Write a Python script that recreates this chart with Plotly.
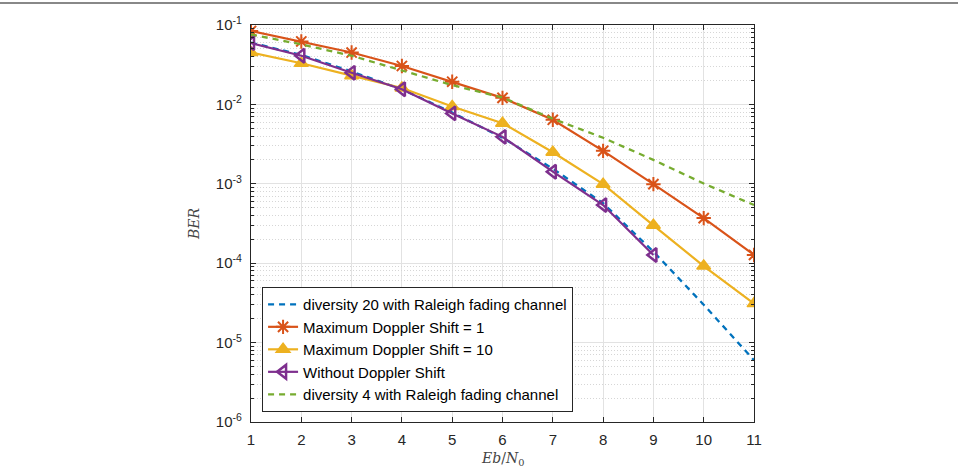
import plotly.graph_objects as go

ebn0 = [1, 2, 3, 4, 5, 6, 7, 8, 9, 10, 11]
div20 = [0.060, 0.042, 0.026, 0.0155, 0.0079, 0.0038, 0.00155, 0.00057, 0.00014, 3.0e-5, 6.0e-6]
doppler1 = [0.084, 0.062, 0.045, 0.0305, 0.0193, 0.0121, 0.0064, 0.0026, 0.00099, 0.00037, 0.000127]
doppler10 = [0.045, 0.033, 0.023, 0.0161, 0.0094, 0.0058, 0.0025, 0.00099, 0.00030, 9.2e-5, 3.1e-5]
ebn0_nod = [1, 2, 3, 4, 5, 6, 7, 8, 9]
no_doppler = [0.059, 0.041, 0.025, 0.0155, 0.0077, 0.0039, 0.00142, 0.00054, 0.000127]
div4 = [0.076, 0.057, 0.041, 0.027, 0.0175, 0.0122, 0.0066, 0.0038, 0.0020, 0.00101, 0.00054]

names = ["diversity 20 with Raleigh fading channel", "Maximum Doppler Shift = 1",
         "Maximum Doppler Shift = 10", "Without Doppler Shift",
         "diversity 4 with Raleigh fading channel"]
ytickvals = [1e-6, 1e-5, 1e-4, 1e-3, 1e-2, 1e-1]
yticktext = ["10<sup>-6</sup>", "10<sup>-5</sup>", "10<sup>-4</sup>", "10<sup>-3</sup>",
             "10<sup>-2</sup>", "10<sup>-1</sup>"]
decades = [-6, -5, -4, -3, -2]
minor_mults = [2, 3, 4, 5, 6, 7, 8, 9]
yminorvals = [m * 10.0 ** d for d in decades for m in minor_mults]

BLUE, ORANGE, YELLOW, PURPLE, GREEN = "#0072BD", "#D95319", "#EDB120", "#7E2F8E", "#77AC30"

fig = go.Figure()
# invisible trace that anchors the minor-grid overlay axis
fig.add_trace(go.Scatter(x=[ebn0[0]], y=[ytickvals[-1]], yaxis="y2", mode="markers",
                         marker=dict(opacity=0), showlegend=False, hoverinfo="skip"))
fig.add_trace(go.Scatter(x=ebn0, y=div20, name=names[0], mode="lines",
                         line=dict(color=BLUE, width=2.3, dash="6px,5px")))
fig.add_trace(go.Scatter(x=ebn0, y=doppler1, name=names[1], mode="lines+markers",
                         line=dict(color=ORANGE, width=2.2),
                         marker=dict(symbol="asterisk-open", size=12, line=dict(color=ORANGE, width=2))))
fig.add_trace(go.Scatter(x=ebn0, y=doppler10, name=names[2], mode="lines+markers",
                         line=dict(color=YELLOW, width=2.2),
                         marker=dict(symbol="triangle-up", size=12, color=YELLOW,
                                     line=dict(color=YELLOW, width=1.5))))
fig.add_trace(go.Scatter(x=ebn0_nod, y=no_doppler, name=names[3], mode="lines+markers",
                         line=dict(color=PURPLE, width=2.2),
                         marker=dict(symbol="triangle-left-open", size=12, line=dict(color=PURPLE, width=2.5))))
fig.add_trace(go.Scatter(x=ebn0, y=div4, name=names[4], mode="lines",
                         line=dict(color=GREEN, width=2.3, dash="6px,5px")))

axcol = "#262626"
fig.update_layout(
    width=958, height=470,
    margin=dict(l=251, r=204, t=25, b=48, autoexpand=False),
    paper_bgcolor="white", plot_bgcolor="white",
    font=dict(family="Liberation Sans, Arial, sans-serif", size=15, color=axcol),
    showlegend=True,
    legend=dict(x=0.022, y=0.025, xanchor="left", yanchor="bottom",
                bgcolor="white", bordercolor=axcol, borderwidth=1,
                font=dict(size=15, color="black"), itemwidth=30, tracegroupgap=0),
    xaxis=dict(range=[1, 11], tickvals=ebn0, ticks="inside", ticklen=5, tickcolor=axcol,
               showline=True, linecolor=axcol, linewidth=1.2, mirror="ticks",
               showgrid=True, gridcolor="#e2e2e2", gridwidth=1, zeroline=False,
               ticklabelstandoff=4, automargin=False),
    yaxis=dict(type="log", range=[-6, -1], tickvals=ytickvals, ticktext=yticktext,
               ticks="inside", ticklen=5, tickcolor=axcol,
               showline=True, linecolor=axcol, linewidth=1.2, mirror="ticks",
               showgrid=True, gridcolor="#e2e2e2", gridwidth=1, zeroline=False,
               ticklabelstandoff=5, automargin=False,
               title=dict(text="<i>BER</i>",
                          font=dict(family="DejaVu Serif, serif", size=14, color="#444"),
                          standoff=12)),
    yaxis2=dict(type="log", range=[-6, -1], overlaying="y", side="left",
                tickvals=yminorvals, showticklabels=False, automargin=False,
                ticks="inside", ticklen=3, tickcolor=axcol, mirror="ticks",
                showline=False, showgrid=True, gridcolor="#d6d6d6", griddash="1px,2px",
                gridwidth=1, zeroline=False),
    annotations=[dict(text="<i>Eb</i>/<i>N</i><sub>0</sub>", xref="paper", yref="paper",
                      x=0.5, y=-0.093, xanchor="center", yanchor="middle", showarrow=False,
                      font=dict(family="DejaVu Serif, serif", size=14, color="#444"))],
    shapes=[dict(type="line", xref="paper", yref="paper",
                 x0=-251/503, x1=707/503, y0=1 + 22/397, y1=1 + 22/397,
                 line=dict(color="#888888", width=2))],
)

fig.write_html("out.html")
